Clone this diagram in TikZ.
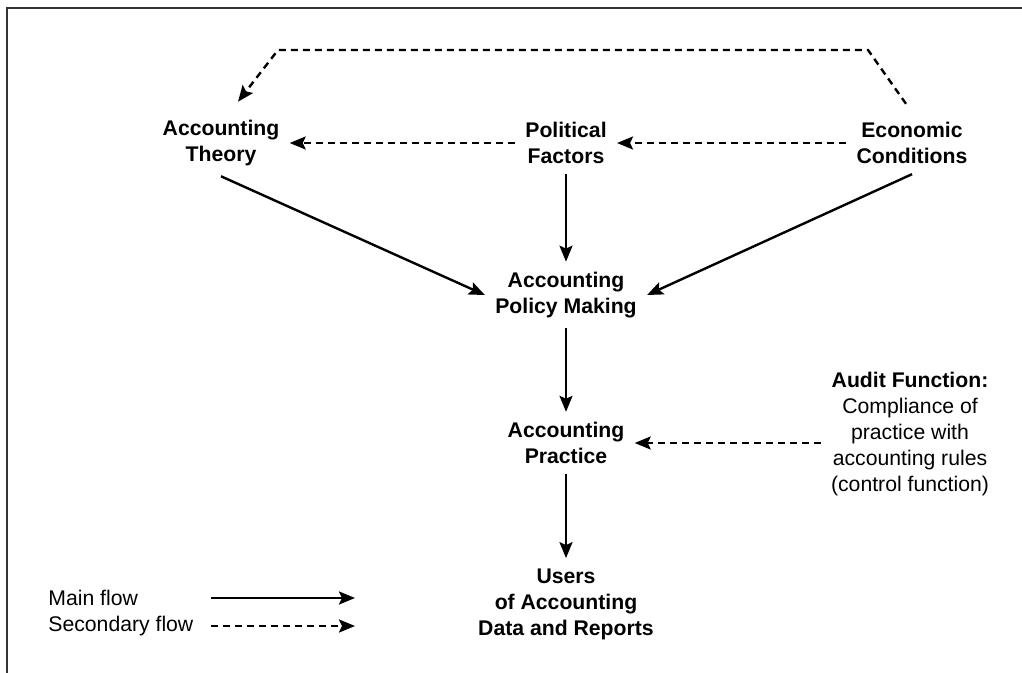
\documentclass[tikz,border=0pt]{standalone}
\usepackage{fontspec}
\setmainfont{Liberation Sans}
\usepackage{tikz}
\usetikzlibrary{arrows.meta}

\begin{document}
\begin{tikzpicture}[x=0.5pt, y=-0.5pt,
	  box/.style={align=center, inner sep=5pt, font=\fontsize{10.6}{13}\selectfont\bfseries},
	  plain/.style={align=center, inner sep=5pt, font=\fontsize{10.6}{13}\selectfont},
	  mainflow/.style={line width=1.2pt, -{Stealth[length=8pt, width=6.5pt, inset=1.5pt]}},
	  secflow/.style={line width=1.2pt, dash pattern=on 3.5pt off 2.5pt, -{Stealth[length=8pt, width=6.5pt, inset=1.5pt]}}]
	  \useasboundingbox (0,0) rectangle (1022,673);
	  \draw [line width=1pt, black!80] (7,673) -- (7,8) -- (1022,8);
	  \node [box] (theo) at (221,143) {Accounting\\Theory};
	  \node [box] (pol) at (566,143) {Political\\Factors};
	  \node [box] (eco) at (912,143) {Economic\\Conditions};
	  \node [box] (policy) at (566,295) {Accounting\\Policy Making};
	  \node [box] (prac) at (566,443) {Accounting\\Practice};
	  \node [box] (users) at (566,604) {Users\\of Accounting\\Data and Reports};
	  \node [plain] (audit) at (910,434) {\textbf{Audit Function:}\\Compliance of\\practice with\\accounting rules\\(control function)};
	  \coordinate (tr) at (868,50);
	  \coordinate (tl) at (278,50);
	  \draw [mainflow] (theo.south) -- (policy.west);
	  \draw [mainflow] (pol.south) -- (policy.north);
	  \draw [mainflow] (eco.south) -- (policy.east);
	  \draw [mainflow] (policy.south) -- (prac.north);
	  \draw [mainflow] (prac.south) -- (users.north);
	  \draw [secflow] (pol.west) -- (theo.east);
	  \draw [secflow] (eco.west) -- (pol.east);
	  \draw [secflow] (audit.west |- prac.east) -- (prac.east);
	  \draw [secflow] ([shift={(-6,-8)}]eco.north) -- (tr) -- (tl) -- ([shift={(17,-8)}]theo.north);
	  % legend
	  \node [plain, anchor=west, inner sep=0pt] (lmain) at (48,598) {Main flow};
	  \node [plain, anchor=west, inner sep=0pt] (lsec) at (48,626) {Secondary flow};
	  \coordinate (ma) at (211,598);
	  \coordinate (mb) at (355,598);
	  \coordinate (sa) at (211,626);
	  \coordinate (sb) at (355,626);
	  \draw [mainflow] (ma) -- (mb);
	  \draw [secflow] (sa) -- (sb);
\end{tikzpicture}
\end{document}
